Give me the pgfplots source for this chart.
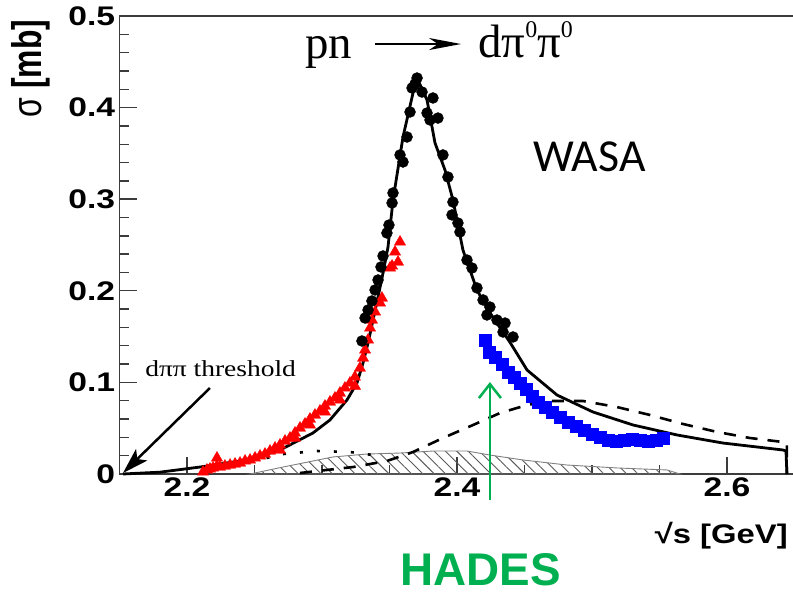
\documentclass[border=0pt]{standalone}
\usepackage{pgfplots}
\pgfplotsset{compat=1.18}
\usetikzlibrary{patterns.meta,arrows.meta}
\usepackage{fontspec}
\setmainfont{Liberation Sans}
\newfontfamily\seriffont{Liberation Serif}
\newfontfamily\carlito{Carlito}
\definecolor{hadesgreen}{RGB}{0,176,80}
\definecolor{axisgray}{RGB}{60,60,60}

\begin{document}
\begin{tikzpicture}
\useasboundingbox (-119.5bp,-120bp) rectangle (673.5bp,474bp);
\begin{axis}[
  scale only axis, width=675bp, height=458bp,
  xmin=2.15, xmax=2.65, ymin=0, ymax=0.5,
  xtick={2.2,2.4,2.6}, minor x tick num=3,
  ytick={0,0.1,0.2,0.3,0.4,0.5}, minor y tick num=4,
  tick pos=left, tick align=inside,
  major tick length=17bp, minor tick length=9bp,
  axis line style={axisgray, line width=1.4bp},
  every tick/.style={axisgray, line width=1.4bp},
  /pgf/number format/assume math mode=true,
  xticklabel style={font=\fontsize{27}{27}\selectfont\bfseries, xscale=1.25, /pgf/number format/fixed, /pgf/number format/precision=1},
  yticklabel style={font=\fontsize{27}{27}\selectfont\bfseries, xscale=1.25},
  clip=false,
]
% hatched band
\addplot[draw=gray, line width=0.9bp, pattern={Lines[angle=-45,distance=8bp,line width=0.9bp]}, pattern color=gray!70!black]
coordinates {(2.2467,0) (2.2711,0.0076) (2.3081,0.0186) (2.3333,0.0218) (2.3578,0.0229) (2.3822,0.0251) (2.4074,0.0251) (2.4244,0.0207) (2.4489,0.0153) (2.4815,0.0098) (2.5185,0.0066) (2.5556,0.0044) (2.5652,0)} \closedcycle;

% dotted curve
\addplot[black, line width=2.6bp, dash pattern=on 3bp off 14bp]
coordinates {(2.2096,0.0022) (2.2467,0.0131) (2.2711,0.0218) (2.2963,0.0251) (2.3207,0.0240) (2.3430,0.0197)};

% dashed curve
\addplot[black, line width=2.6bp, dash pattern=on 12bp off 10bp]
coordinates {(2.2837,0.0011) (2.3230,0.0076) (2.3481,0.0142) (2.3674,0.0240) (2.3896,0.0393) (2.4119,0.0535) (2.4319,0.0666) (2.4519,0.0753) (2.4689,0.0797) (2.4933,0.0797) (2.5185,0.0731) (2.5430,0.0644) (2.5674,0.0546) (2.5926,0.0459) (2.6170,0.0393) (2.6415,0.0349) (2.6444,0.0338) (2.6444,0)};

% solid curve
\addplot[black, line width=2.8bp]
coordinates {(2.1526,0) (2.18,0.002) (2.2096,0.0076) (2.2444,0.0153) (2.2689,0.0262) (2.2933,0.0448) (2.3059,0.0590) (2.3185,0.0808) (2.3259,0.0993) (2.3304,0.1212) (2.3341,0.1430) (2.3378,0.1681) (2.3415,0.1932) (2.3452,0.2194) (2.3489,0.2478) (2.3526,0.2991) (2.3600,0.3679) (2.3674,0.4159) (2.3704,0.4323) (2.3778,0.4083) (2.3837,0.3614) (2.3911,0.3319) (2.3970,0.2991) (2.4044,0.2445) (2.4148,0.2009) (2.4244,0.1758) (2.4341,0.1550) (2.4400,0.1420) (2.4519,0.1135) (2.4741,0.0862) (2.5007,0.0677) (2.5304,0.0535) (2.5630,0.0426) (2.5970,0.0338) (2.6415,0.0262) (2.6437,0.0251) (2.6444,0)};

% red triangles
\addplot[only marks, mark=triangle*, mark size=6.5bp, color=red]
coordinates {(2.2119,0.0022) (2.2148,0.0044) (2.2170,0.0055) (2.2193,0.0066) (2.2222,0.0175) (2.2222,0.0087) (2.2244,0.0076) (2.2281,0.0087) (2.2319,0.0098) (2.2356,0.0109) (2.2393,0.0120) (2.2430,0.0142) (2.2467,0.0153) (2.2504,0.0175) (2.2541,0.0197) (2.2578,0.0218) (2.2615,0.0251) (2.2652,0.0284) (2.2689,0.0317) (2.2726,0.0360) (2.2763,0.0393) (2.2800,0.0448) (2.2837,0.0502) (2.2874,0.0546) (2.2911,0.0600) (2.2948,0.0644) (2.2985,0.0688) (2.3022,0.0742) (2.3059,0.0786) (2.3096,0.0830) (2.3133,0.0884) (2.3170,0.0939) (2.3207,0.0993) (2.3244,0.1059) (2.3281,0.1157) (2.3304,0.1266) (2.3319,0.1354) (2.3341,0.1463) (2.3356,0.1594) (2.3370,0.1681) (2.3393,0.1769) (2.3430,0.1867) (2.3444,0.1921) (2.3504,0.2249) (2.3519,0.2271) (2.3541,0.2424) (2.3563,0.2314) (2.3578,0.2533)
(2.2689,0.0262) (2.2800,0.0393) (2.2911,0.0535) (2.3022,0.0677) (2.3133,0.0808) (2.3244,0.0960)};

% blue squares
\addplot[only marks, mark=square*, mark size=6bp, color=blue]
coordinates {(2.4211,0.1463) (2.4237,0.1332) (2.4281,0.1277) (2.4333,0.1201) (2.4378,0.1114) (2.4422,0.1059) (2.4467,0.0993) (2.4511,0.0928) (2.4556,0.0852) (2.4600,0.0786) (2.4652,0.0731) (2.4704,0.0677) (2.4763,0.0622) (2.4822,0.0568) (2.4881,0.0524) (2.4941,0.0480) (2.5000,0.0437) (2.5059,0.0404) (2.5119,0.0371) (2.5178,0.0360) (2.5237,0.0371) (2.5296,0.0382) (2.5356,0.0371) (2.5415,0.0360) (2.5474,0.0371) (2.5526,0.0393)};

% black WASA points
\addplot[only marks, mark=*, mark size=5.5bp, color=black]
coordinates {(2.3296,0.1452) (2.3319,0.1703) (2.3341,0.1790) (2.3370,0.1889) (2.3393,0.2009) (2.3415,0.2118) (2.3437,0.2260) (2.3452,0.2380) (2.3481,0.2631) (2.3496,0.2718) (2.3519,0.2959) (2.3526,0.3068) (2.3578,0.3483) (2.3600,0.3406) (2.3630,0.3679) (2.3652,0.3952) (2.3667,0.4214) (2.3689,0.4258) (2.3704,0.4323) (2.3741,0.4170) (2.3778,0.3941) (2.3800,0.3865) (2.3822,0.4105) (2.3859,0.3886) (2.3896,0.3483) (2.3933,0.3242) (2.3970,0.2969) (2.3963,0.2828) (2.4007,0.2740) (2.4022,0.2642) (2.4074,0.2336) (2.4111,0.2249) (2.4148,0.2031) (2.4193,0.1900) (2.4222,0.1736) (2.4244,0.1823) (2.4296,0.1681) (2.4341,0.1550) (2.4356,0.1648) (2.4415,0.1496)};

% annotations
\node[anchor=base west, font=\seriffont\fontsize{47}{47}\selectfont, inner sep=0pt] at (axis cs:2.2874,0.4541) {pn};
\draw[black, line width=1.6bp, -{Stealth[length=32bp,width=12bp,inset=9bp]}] (axis cs:2.3393,0.4694) -- (axis cs:2.4030,0.4694);
\node[anchor=base west, font=\seriffont\fontsize{47}{47}\selectfont, inner sep=0pt] at (axis cs:2.4156,0.4552) {dπ\raisebox{0.42em}{\fontsize{24}{24}\selectfont 0}π\raisebox{0.42em}{\fontsize{24}{24}\selectfont 0}};
\node[anchor=base west, font=\carlito\fontsize{46}{46}\selectfont, inner sep=0pt] at (axis cs:2.4563,0.3297) {WASA};
\node[anchor=base west, font=\seriffont\fontsize{23}{23}\selectfont, inner sep=0pt, xscale=1.2] at (axis cs:2.1689,0.1059) {dππ threshold};
\draw[black, line width=2.5bp, -{Stealth[length=26bp,width=16bp,inset=6bp]}] (axis cs:2.2170,0.0939) -- (axis cs:2.1526,0.0011);
\draw[hadesgreen, line width=2.5bp, -{Straight Barb[length=14bp,width=22bp]}] (axis cs:2.4244,-0.0284) -- (axis cs:2.4244,0.1004);
\node[anchor=base west, font=\fontsize{46}{46}\selectfont\bfseries, text=hadesgreen, inner sep=0pt] at (axis cs:2.3578,-0.1212) {HADES};
\node[anchor=base east, font=\fontsize{27}{27}\selectfont\bfseries, inner sep=0pt, xscale=1.22] at (axis cs:2.6452,-0.0764) {√s [GeV]};
\node[anchor=base east, rotate=90, inner sep=0pt, font=\fontsize{32}{32}\selectfont] at (axis cs:2.0919,0.496) {\scalebox{1}[1.3]{σ \bfseries [mb]}};
\end{axis}
\end{tikzpicture}
\end{document}
